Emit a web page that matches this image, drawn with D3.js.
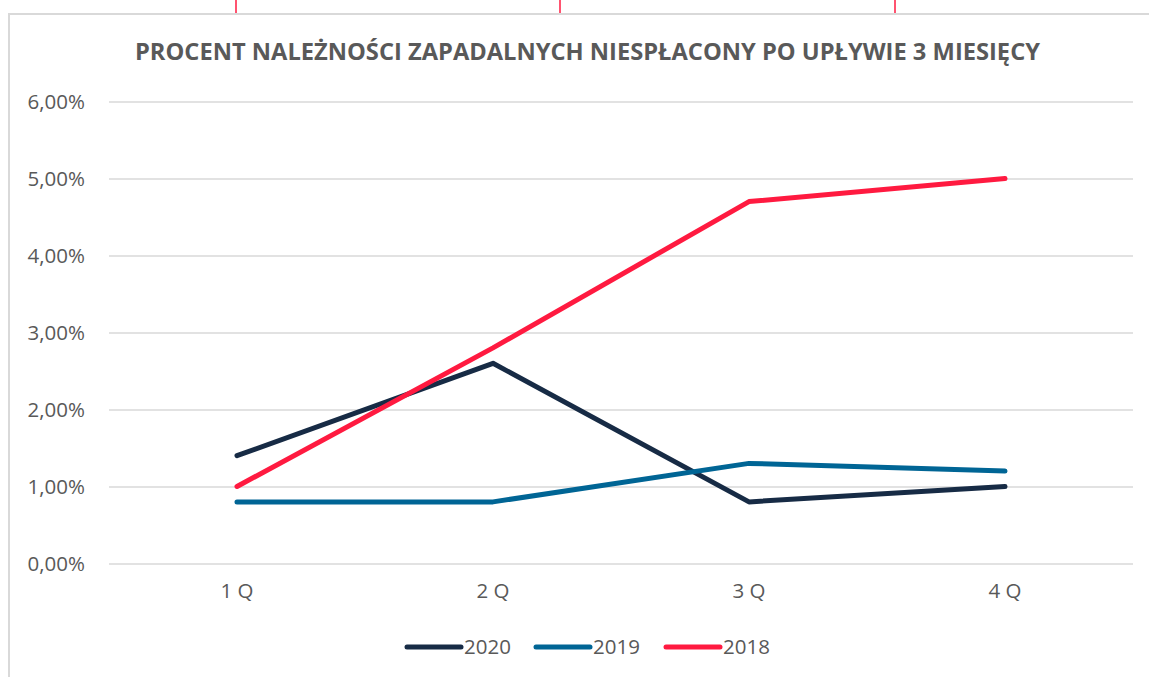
<!DOCTYPE html>
<html lang="pl">

<head>
    <meta charset="UTF-8">
    <title>Procent należności</title>
    <script src="https://d3js.org/d3.v7.min.js"></script>
    <style>
        body { margin: 0; background: #fff; }
        text { font-family: "Open Sans", sans-serif; fill: #595959; }
    </style>
</head>

<body>
    <div id="chart"></div>
    <script>

        // data
        const quarters = ["1 Q", "2 Q", "3 Q", "4 Q"];
        const years = ["2020", "2019", "2018"];
        const values2020 = [1.4, 2.6, 0.8, 1.0];
        const values2019 = [0.8, 0.8, 1.3, 1.2];
        const values2018 = [1.0, 2.8, 4.7, 5.0];
        const yTicks = [0, 1, 2, 3, 4, 5, 6];
        const colors = ["#172b45", "#006595", "#ff1a40"];

        const series = [values2020, values2019, values2018];

        const width = 1149, height = 677;
        const margin = { left: 109, right: 16, top: 101.5, bottom: 113.5 };

        const svg = d3.select("#chart").append("svg")
            .attr("width", width)
            .attr("height", height);

        // red marks above the frame
        svg.selectAll(".mark").data([236, 560, 895]).join("line")
            .attr("x1", d => d).attr("x2", d => d)
            .attr("y1", 0).attr("y2", 13)
            .attr("stroke", "#ff1a40").attr("stroke-width", 1.5);

        // chart frame
        svg.append("rect")
            .attr("x", 9).attr("y", 14)
            .attr("width", width).attr("height", height)
            .attr("fill", "#fff")
            .attr("stroke", "#d9d9d9").attr("stroke-width", 2);

        const x = d3.scaleBand()
            .domain(quarters)
            .range([margin.left, width - margin.right]);

        const y = d3.scaleLinear()
            .domain([0, 6])
            .range([height - margin.bottom, margin.top]);

        // title
        svg.append("text")
            .attr("x", 135).attr("y", 60)
            .attr("textLength", 905)
            .attr("lengthAdjust", "spacingAndGlyphs")
            .style("font-size", "23.5px")
            .style("font-weight", "bold")
            .text("PROCENT NALEŻNOŚCI ZAPADALNYCH NIESPŁACONY PO UPŁYWIE 3 MIESIĘCY");

        // gridlines + y labels
        const yAxis = svg.append("g")
            .attr("transform", `translate(${margin.left},0)`)
            .call(d3.axisLeft(y)
                .tickValues(yTicks)
                .tickSize(-(width - margin.left - margin.right))
                .tickPadding(24)
                .tickFormat(d => d3.format(".2f")(d).replace(".", ",") + "%"));
        yAxis.select(".domain").remove();
        yAxis.selectAll(".tick line").attr("stroke", "#d9d9d9").attr("stroke-width", 1.3);
        yAxis.selectAll(".tick text").style("font-size", "20.5px").attr("fill", "#595959");

        // x labels
        const xAxis = svg.append("g")
            .attr("transform", `translate(0,${height - margin.bottom})`)
            .call(d3.axisBottom(x).tickSize(0).tickPadding(20));
        xAxis.select(".domain").remove();
        xAxis.selectAll(".tick text").style("font-size", "20.5px").attr("fill", "#595959");

        // lines
        const line = d3.line()
            .x((d, i) => x(quarters[i]) + x.bandwidth() / 2)
            .y(d => y(d));

        svg.selectAll(".series").data(series).join("path")
            .attr("d", line)
            .attr("fill", "none")
            .attr("stroke", (d, i) => colors[i])
            .attr("stroke-width", 5)
            .attr("stroke-linecap", "round")
            .attr("stroke-linejoin", "round");

        // legend
        const legendX = [407, 536, 666];
        const legend = svg.selectAll(".legend").data(years).join("g")
            .attr("transform", (d, i) => `translate(${legendX[i]},647)`);
        legend.append("line")
            .attr("x1", 0).attr("x2", 54)
            .attr("stroke", (d, i) => colors[i])
            .attr("stroke-width", 5)
            .attr("stroke-linecap", "round");
        legend.append("text")
            .attr("x", 57).attr("dy", "0.35em")
            .style("font-size", "20.5px")
            .text(d => d);
    </script>
</body>

</html>
